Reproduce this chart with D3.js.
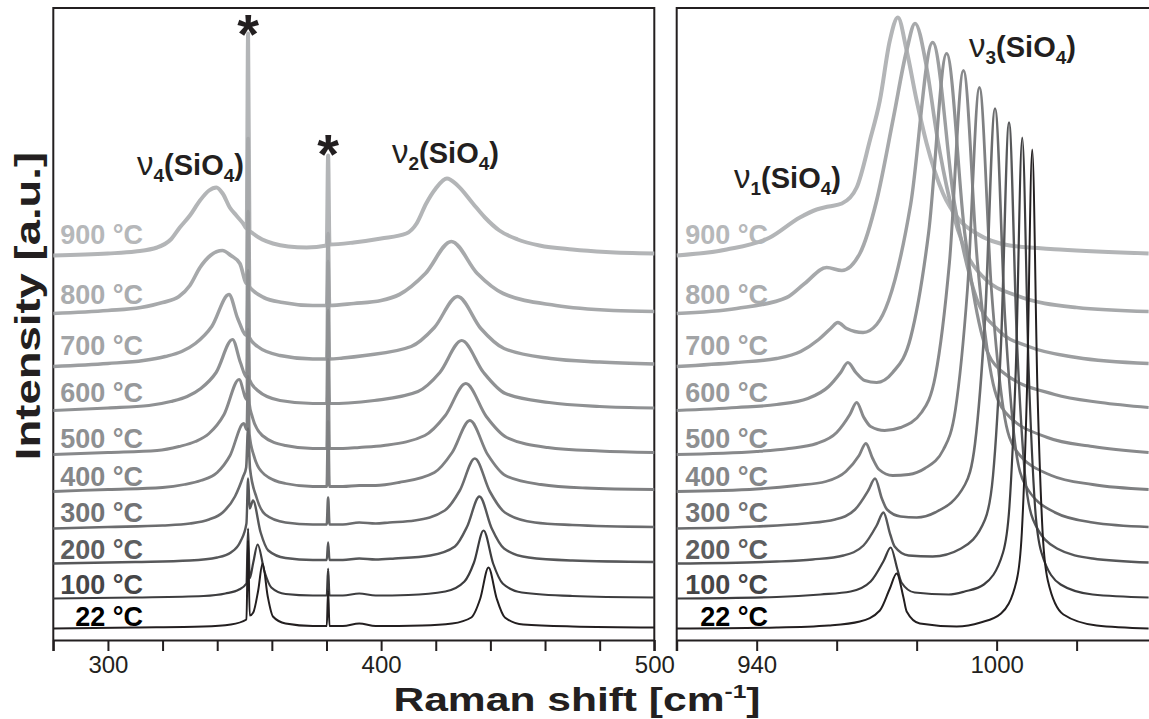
<!DOCTYPE html>
<html>
<head>
<meta charset="utf-8">
<script src="https://cdn.jsdelivr.net/npm/d3@7"></script>
<style>
  body { margin: 0; background: #fff; }
  text { font-family: "Liberation Sans", Arial, Helvetica, sans-serif; }
</style>
</head>
<body>
<svg id="chart" width="1149" height="719"></svg>
<script>
//Températures et décalages verticaux des spectres (u.a.)
const temps = ['22 °C', '100 °C', '200 °C', '300 °C', '400 °C', '500 °C', '600 °C', '700 °C', '800 °C', '900 °C']
const offsets = [0, 30, 65, 100, 137, 174, 218, 262, 315, 373]

//Graduations
const lowTicks = [300, 400, 500]
const highTicks = [940, 1000]

//Spectres, zone 280-500 cm-1 : [nombre d'onde, intensité au-dessus de la ligne de base]
const low22 = [[280,0],[310,1],[335,2],[345,4],[350.7,9],[351.3,88],[351.9,13],[353.2,16],[355,38],[356.6,65],[358.5,32],[360.4,12],[365,5],[375,2.5],[380.1,2.5],[380.6,38],[381.1,2.5],[386,2.5],[392,5],[398,2.5],[415,3],[426,5],[433,11],[436.3,30],[439.3,61],[442.3,30],[445.3,11],[452,4],[470,2],[500,1]]
const low100 = [[280,0],[310,1],[335,2.5],[343,5],[348,9],[350.7,15],[351.3,70],[351.9,20],[353.2,36],[354.8,54],[357.3,27],[359.8,11],[365,4.5],[375,3],[380.1,3],[380.6,30],[381.1,3],[386,3],[392,5],[398,3],[410,3.5],[423.5,7],[430.5,17],[434,36],[437.5,68],[441,35],[444.5,15],[451.5,6],[470,2.5],[500,1]]
const low200 = [[280,0],[310,1.5],[330,3],[340,6],[345,11],[348.5,22],[350.7,40],[351.3,85],[351.9,55],[353.1,63],[355.9,31],[358.7,13],[365,5.5],[375,3.5],[380.1,3.5],[380.6,21],[381.1,3.5],[386,3.5],[392,5],[398,4],[405,5],[418,8],[427,17],[431.5,37],[436,67],[440.5,35],[445,15],[454,6],[470,3],[500,1.5]]
const low300 = [[280,0],[300,1.5],[320,3],[330,5],[337,9],[342,16],[346.5,32],[349.5,52],[350.6,61],[351.3,100],[352,60],[354.4,31],[357.6,14],[365,6],[375,4],[380.1,4],[380.6,31],[381.1,4],[386,4],[392,6],[398,5],[403,6],[412.3,8],[423.3,18],[428.8,38],[434.3,70],[439.8,37],[445.3,16],[456.3,6],[470,3.5],[500,1.5]]
const low400 = [[280,0],[300,2],[320,4],[328,7],[334,11],[340,19],[344.7,36],[349.7,68],[350.8,62],[351.3,115],[351.8,57],[353.4,36],[357.3,17],[365,8],[375,5],[380.1,5],[380.6,70],[381.1,5],[386,5],[392,6],[398,6],[406.5,9],[419.5,19],[426,39],[432.5,71],[439,37],[445.5,16],[458.5,7],[475,3.5],[500,2]]
const low500 = [[280,0],[300,2],[318,4],[326,8],[332,13],[337,21],[342.5,40],[348,75],[350.8,55],[351.3,125],[351.8,50],[352.7,39],[356.5,19],[365,9],[375,6],[380.1,6],[380.6,95],[381.1,6],[386,6],[392,7],[401,9],[416,19],[423.5,39],[431,71],[438.5,38],[446,17],[461,7],[480,3.5],[500,2]]
const low600 = [[280,0],[300,2.5],[315,5],[323,9],[329,14],[334,22],[339.6,38],[345.6,71],[348.5,48],[350.8,33],[351.3,140],[351.8,31],[354.8,20],[363,10],[375,7],[380.1,7],[380.6,100],[381.1,7],[388,7.5],[397.5,10],[413.5,19],[421.5,38],[429.5,70],[437.5,38],[445.5,17],[461.5,8],[480,4],[500,2.5]]
const low700 = [[280,0],[300,3],[313,6],[321,10],[327,15],[332,23],[338,40],[344.3,72],[347.5,48],[350.8,31],[351.3,155],[351.8,29],[354.8,20],[363,11],[375,7.5],[380.1,7.5],[380.6,105],[381.1,7.5],[386,8.5],[394,11],[411,20],[419.5,39],[428,70],[436.5,38],[445,18],[462,8],[480,4.5],[500,2.5]]
const low800 = [[280,0],[300,3],[312,6],[320,11],[326,17],[330,28],[333.7,46],[337.5,58],[341.9,63],[345,58],[348.3,50],[350.8,30],[351.3,175],[351.8,27],[353.1,23],[357,16],[364,11],[375,8],[380.1,8],[380.6,80],[381.1,8],[390,10],[400,13],[406.7,19],[416.2,40],[425.7,72],[435.2,40],[444.7,20],[464,8],[485,3],[500,2]]
const low900 = [[280,0],[300,2],[310,4],[318,8],[323,16],[326.3,28],[330,40],[333.7,55],[337,65],[339.7,68],[342,62],[344.6,48],[347,40],[349.5,32],[350.8,27],[351.3,222],[351.8,25],[353.1,22],[356.5,16],[360.4,12],[366,9],[372.7,8],[380.1,10],[380.6,100],[381.1,11],[390,13],[400,17],[409.2,22],[413,32],[416.5,52],[420,67],[424.1,77],[428,70],[433.6,52],[438,38],[443.3,25],[450,16],[458,10],[470,6],[482.3,3.5],[500,2]]

//Spectres, zone 920-1040 cm-1
const high22 = [[920,0],[945,1],[958,3],[965.8,7],[970.8,18],[973.3,40],[975,55],[976.7,31],[977.5,17],[980.8,5],[990,2],[996,6],[1001.1,15],[1005,48],[1006.3,96],[1007.6,240],[1008.9,479],[1010.2,240],[1011.5,96],[1012.8,48],[1016.7,14],[1025,3],[1038,0]]
const high100 = [[920,0],[945,1.5],[956,4],[963.5,7],[968.5,17],[971.8,38],[973.5,51],[975.2,29],[976.2,16],[979.5,6],[988,4],[992,7],[996.8,14],[1001.6,46],[1003.2,92],[1004.8,230],[1006.4,461],[1008,230],[1009.6,92],[1011.2,46],[1016,14],[1024,4],[1038,1]]
const high200 = [[920,0],[945,2],[954,4],[961.7,8],[966.7,18],[970,38],[971.7,51],[973.4,29],[974.5,17],[978,8],[984,7],[991.1,15],[997.1,44],[999.1,88],[1001.1,220],[1003.1,441],[1005.1,220],[1007.1,88],[1009.1,44],[1015.1,15],[1024,5],[1038,1]]
const high300 = [[920,0],[940,2],[952,5],[959.6,9],[964.6,19],[967.9,38],[969.6,50],[971.3,30],[972.6,19],[976,12],[980,11],[984.6,16],[992.1,44],[994.6,85],[997.1,210],[999.6,420],[1002.1,210],[1004.6,85],[1007.1,44],[1014.6,16],[1024,6],[1038,1.5]]
const high400 = [[920,0],[940,2.5],[950,6],[957.3,10],[962.3,20],[965.6,36],[967.3,48],[969,33],[970.6,22],[974,16],[978,17],[982,23],[986.7,42],[989.7,82],[992.7,202],[995.7,404],[998.7,202],[1001.7,82],[1004.7,42],[1013.7,16],[1024,7],[1038,2]]
const high500 = [[920,0],[940,3],[948,6],[955,11],[960,22],[963.3,40],[965,52],[966.8,37],[968.5,28],[972,24],[976,27],[981.2,42],[984.7,79],[988.2,192],[991.7,384],[995.2,192],[998.7,79],[1002.2,42],[1012.7,17],[1024,8],[1038,2]]
const high600 = [[920,0],[935,3],[945,6],[952.8,12],[958,24],[961,38],[962.8,48],[964.8,38],[967,30],[970,28],[974,38],[978.5,73],[983,178],[987.5,357],[992,178],[996.5,73],[1001,40],[1014.5,16],[1026,8],[1038,3]]
const high700 = [[920,0],[935,4],[945,8],[951,15],[955.5,27],[958.5,38],[960.3,44],[962.5,38],[966.6,34],[970,42],[973,66],[978.5,162],[984,324],[989.5,162],[995,68],[1000.5,36],[1008,20],[1020,9],[1038,3]]
const high800 = [[920,0],[935,5],[947.5,16],[952,30],[957.5,46],[961.3,43],[965.8,60],[970,113],[974.2,196],[977.5,263],[979.6,290],[982.5,246],[985,180],[988.3,113],[992.5,60],[997,35],[1005,18],[1020,6],[1038,2]]
const high900 = [[920,0],[932.5,6],[943.3,18],[950.8,38],[955,46],[958,49],[961.3,52],[965,68],[968.3,115],[970.8,155],[973.3,215],[975.3,238],[977.5,205],[980,155],[982.5,112],[986.6,62],[990.8,35],[995,22],[1003.3,10],[1015.8,6],[1038,2]]

const lowSpectra = [low22, low100, low200, low300, low400, low500, low600, low700, low800, low900]
const highSpectra = [high22, high100, high200, high300, high400, high500, high600, high700, high800, high900]

//Styles
const lineColors = ['#231f20', '#3d3d3f', '#57585a', '#6b6c6e', '#7f8082', '#88898b', '#8f9193', '#9c9ea0', '#a7a9ab', '#b3b5b7']
const labelColors = ['#000000', '#454547', '#5d5e60', '#727375', '#858789', '#8e9092', '#97999b', '#a2a4a6', '#abadaf', '#b6b8ba']
const lineWidths = [2, 2.2, 2.4, 2.6, 2.8, 3, 3.2, 3.4, 3.7, 4]
const labelLift = [3, 5, 5, 7, 6, 7, 9, 12, 10, 12]

const ink = '#231f20'
const svg = d3.select('#chart')
svg.append('rect').attr('width', 1149).attr('height', 719).attr('fill', '#fff')

const y = d3.scaleLinear().domain([0, 620]).range([628.5, 8.5])
const axisY = 640
const xLow = d3.scaleLinear().domain([280, 500]).range([53.3, 654.3])
const xHigh = d3.scaleLinear().domain([920, 1038.6]).range([676.7, 1151])

/**
 * Dessine un panneau (cadre, axe, étiquettes, spectres)
 */
function drawPanel(x, spectra, ticks, labelEnd, closed) {
  const g = svg.append('g')
  const [x0, x1] = x.range()

  //Cadre
  g.append('path')
    .attr('d', closed
      ? `M${x0},${axisY + 11}V8H${x1}V${axisY + 11}`
      : `M${x0},${axisY + 11}V8H${x1}`)
    .attr('fill', 'none').attr('stroke', ink).attr('stroke-width', 2)

  //Axe
  const [d0, d1] = x.domain()
  const axis = d3.axisBottom(x)
    .tickValues(d3.range(d0, d1 + 0.01, 20))
    .tickSize(11).tickSizeOuter(0).tickPadding(5)
    .tickFormat(d => ticks.includes(d) ? d : '')
  const ga = g.append('g').attr('transform', `translate(0,${axisY})`).call(axis)
  ga.select('.domain').attr('stroke', ink).attr('stroke-width', 2)
  ga.selectAll('.tick line').attr('stroke', ink).attr('stroke-width', 2)
  ga.selectAll('.tick text').attr('fill', ink).attr('font-size', 24)
    .attr('font-family', '"Liberation Sans", Arial, sans-serif')

  //Étiquettes de température
  g.selectAll('text.temp')
    .data(temps)
    .enter()
    .append('text')
    .attr('class', 'temp')
    .attr('x', labelEnd)
    .attr('y', (d, i) => y(offsets[i]) - labelLift[i])
    .attr('text-anchor', 'end')
    .attr('font-size', 27)
    .attr('font-weight', 'bold')
    .attr('fill', (d, i) => labelColors[i])
    .text(d => d)

  //Spectres : du plus chaud (dessous) au plus froid (dessus)
  const order = d3.range(spectra.length).reverse()
  order.forEach(i => {
    const line = d3.line()
      .x(d => x(d[0]))
      .y(d => y(d[1] + offsets[i]))
      .curve(d3.curveMonotoneX)
    g.append('path')
      .datum(spectra[i])
      .attr('d', line)
      .attr('fill', 'none')
      .attr('stroke', lineColors[i])
      .attr('stroke-width', lineWidths[i])
      .attr('stroke-linejoin', 'round')
  })
}

drawPanel(xLow, lowSpectra, lowTicks, 143, true)
drawPanel(xHigh, highSpectra, highTicks, 768, false)

//Annotations des modes
function modeLabel(x0, y0, idx) {
  const t = svg.append('text').attr('x', x0).attr('y', y0).attr('fill', ink)
  t.append('tspan').text('ν').attr('font-size', 33)
  t.append('tspan').text(idx).attr('font-size', 19).attr('font-weight', 'bold').attr('dy', 7)
  t.append('tspan').text('(SiO').attr('font-size', 29).attr('font-weight', 'bold').attr('dy', -7)
  t.append('tspan').text('4').attr('font-size', 19).attr('font-weight', 'bold').attr('dy', 7)
  t.append('tspan').text(')').attr('font-size', 29).attr('font-weight', 'bold').attr('dy', -7)
}
modeLabel(137, 175, '4')
modeLabel(392, 163, '2')
modeLabel(734, 188, '1')
modeLabel(969, 57, '3')

//Astérisques
const stars = [[351.3, 53], [380.6, 173]]
stars.forEach(s => {
  svg.append('text')
    .attr('x', xLow(s[0])).attr('y', s[1])
    .attr('text-anchor', 'middle')
    .attr('font-size', 56).attr('font-weight', 'bold')
    .attr('fill', ink)
    .text('*')
})

//Titres des axes
const xt = svg.append('text')
  .attr('transform', 'translate(577,711) scale(1.29,1)')
  .attr('text-anchor', 'middle')
  .attr('font-size', 33).attr('font-weight', 'bold').attr('fill', ink)
xt.append('tspan').text('Raman shift [cm')
xt.append('tspan').text('-1').attr('font-size', 19).attr('dy', -13)
xt.append('tspan').text(']').attr('dy', 13)

svg.append('text')
  .attr('transform', 'translate(40,306) rotate(-90) scale(1.3,1)')
  .attr('text-anchor', 'middle')
  .attr('font-size', 35).attr('font-weight', 'bold').attr('fill', ink)
  .text('Intensity [a.u.]')
</script>
</body>
</html>
